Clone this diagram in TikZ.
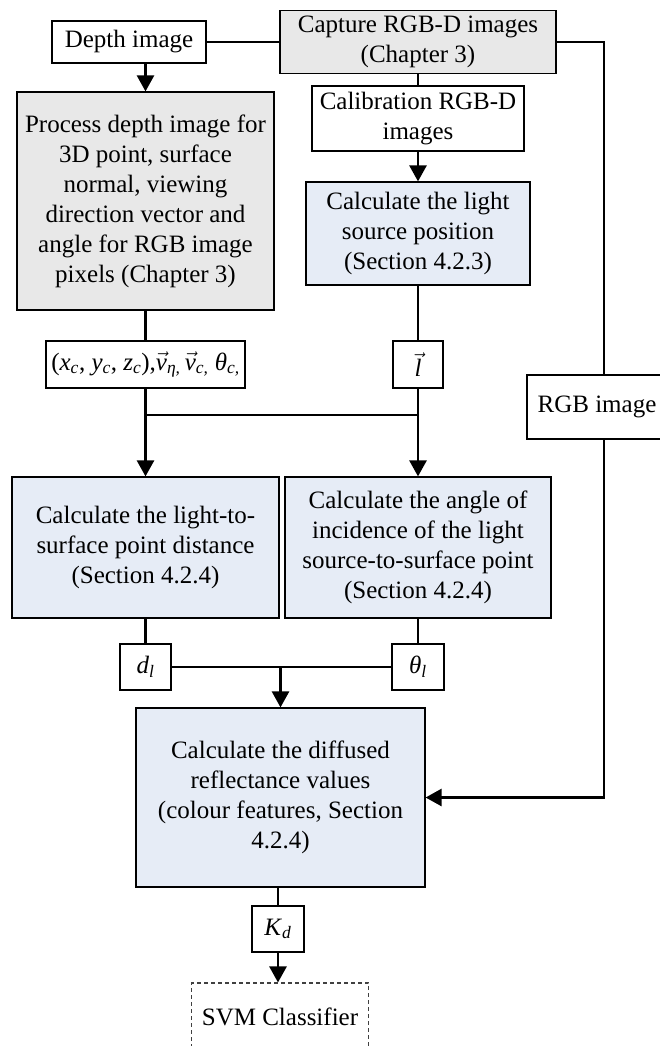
\documentclass[tikz,border=0pt]{standalone}
\usepackage{fontspec}
\setmainfont{Liberation Serif}
\usetikzlibrary{arrows.meta}
\definecolor{boxgray}{RGB}{232,232,232}
\definecolor{boxblue}{RGB}{230,236,246}
\newcommand\vecit[1]{\ensuremath{\vec{\mbox{\itshape #1}}}}
\newcommand\subit[1]{\textsubscript{\textit{#1}}}

\begin{document}
\begin{tikzpicture}[x=1pt,y=-1pt,
  font=\fontsize{25}{30}\selectfont,
  box/.style={draw, line width=1.2pt, align=center, inner sep=0pt},
  graybox/.style={box, fill=boxgray},
  bluebox/.style={box, fill=boxblue},
  dashbox/.style={draw=black!75, line width=1.1pt, dash pattern=on 4pt off 3pt, align=center, inner sep=0pt},
  conn/.style={line width=2.6pt},
  arr/.style={conn, -{Triangle[length=16pt,width=17pt]}}
]
\useasboundingbox (0,0) rectangle (660,1046);
\clip (0,0) rectangle (660,1046);

% top row
\node[box, minimum width=154pt, minimum height=42pt] (depth) at (129,42) {Depth image};
\node[graybox, minimum width=276pt, minimum height=63pt] (cap) at (418,42) {Capture RGB-D images\\(Chapter 3)};

% left column
\node[graybox, minimum width=257pt, minimum height=218pt] (proc) at (145.5,201)
  {Process depth image for\\3D point, surface\\normal, viewing\\direction vector and\\angle for RGB image\\pixels (Chapter 3)};
\node[box, minimum width=199pt, minimum height=47pt] (coord) at (145.5,364.5)
  {(\textit{x}\subit{c}, \textit{y}\subit{c}, \textit{z}\subit{c}),\vecit{v}\subit{η,}\,\vecit{v}\subit{c,} \textit{θ}\subit{c,}};

% right column
\node[box, minimum width=212pt, minimum height=65pt] (calib) at (418,118.5) {Calibration RGB-D\\images};
\node[bluebox, minimum width=224pt, minimum height=103pt] (light) at (418,233.5)
  {Calculate the light\\source position\\(Section 4.2.3)};
\node[box, minimum width=50pt, minimum height=47pt] (lvec) at (418,364.5) {\vecit{l}};

% RGB branch
\node[box, minimum width=140pt, minimum height=64pt] (rgb) at (597,407) {RGB image};

% middle row
\node[bluebox, minimum width=267pt, minimum height=141pt] (dist) at (145.5,547.5)
  {Calculate the light-to-\\surface point distance\\(Section 4.2.4)};
\node[bluebox, minimum width=266pt, minimum height=141pt] (angle) at (418,547.5)
  {Calculate the angle of\\incidence of the light\\source-to-surface point\\(Section 4.2.4)};
\node[box, minimum width=51pt, minimum height=46pt] (dl) at (145.5,667) {\textit{d}\subit{l}};
\node[box, minimum width=52pt, minimum height=46pt] (thl) at (418,667) {\textit{θ}\subit{l}};

% bottom
\node[bluebox, minimum width=289pt, minimum height=179pt] (diff) at (280.5,797.5)
  {Calculate the diffused\\reflectance values\\(colour features, Section\\4.2.4)};
\node[box, minimum width=52pt, minimum height=46pt] (kd) at (278,929) {\textit{K}\subit{d}};
\node[dashbox, minimum width=177pt, minimum height=68pt] (svm) at (280,1017) {SVM Classifier};

% junction points
\coordinate (rline) at (604,42);
\coordinate (jl) at (145.5,415);
\coordinate (jr) at (418,415);
\coordinate (jd) at (280.5,667);

% connectors
\draw[conn] (depth.east) -- (cap.west);
\draw[arr] (depth.south -| proc.north) -- (proc.north);
\draw[conn] (cap.south) -- (calib.north);
\draw[arr] (calib.south) -- (light.north);
\draw[conn] (light.south) -- (lvec.north);
\draw[conn] (proc.south) -- (coord.north);
\draw[conn] (coord.south) -- (jl) -- (jr);
\draw[conn] (lvec.south) -- (jr);
\draw[arr] (jl) -- (dist.north);
\draw[arr] (jr) -- (angle.north);
\draw[conn] (cap.east) -- (rline) -- (rline |- rgb.north);
\draw[arr] (rline |- rgb.south) |- (diff.east);
\draw[conn] (dist.south) -- (dl.north);
\draw[conn] (angle.south) -- (thl.north);
\draw[conn] (dl.east) -- (thl.west);
\draw[arr] (jd) -- (diff.north);
\draw[conn] (diff.south -| kd.north) -- (kd.north);
\draw[arr] (kd.south) -- (svm.north -| kd.south);
\end{tikzpicture}
\end{document}
